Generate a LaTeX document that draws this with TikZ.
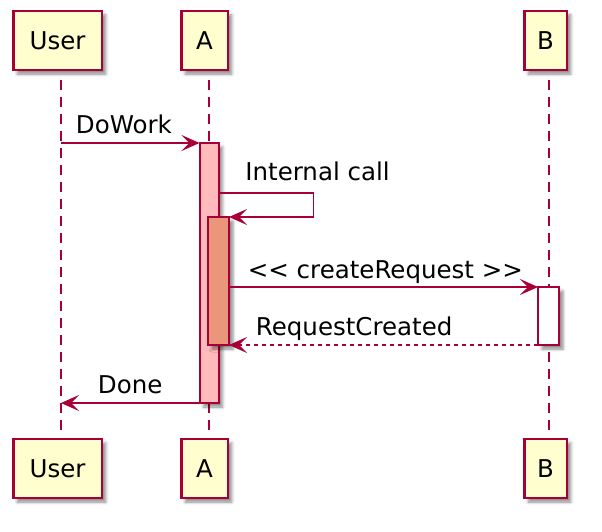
\documentclass[tikz,border=0pt]{standalone}
\usepackage{fontspec}
\setmainfont{DejaVu Sans}
\usepackage{tikz}
\usetikzlibrary{
	arrows.meta,
	calc,
	positioning,
	shadows.blur
}
\definecolor{plantred}{HTML}{A80036}
\definecolor{plantyellow}{HTML}{FEFECE}
\definecolor{plantpink}{HTML}{FFBBBB}
\definecolor{darksalmon}{HTML}{E9967A}

\begin{document}
\begin{tikzpicture} [
		x = 1pt,
		y = -1pt,
		font = \fontsize{24.5}{28}\selectfont,
		participant/.style = {
			rectangle,
			draw = plantred,
			fill = plantyellow,
			line width = 2.5pt,
			minimum height = 59pt,
			inner xsep = 0pt,
			blur shadow = {shadow xshift = 4pt, shadow yshift = -4pt, shadow blur radius = 3pt, shadow opacity = 45},
		},
		activation/.style = {
			rectangle,
			draw = plantred,
			line width = 2pt,
			minimum width = 19pt,
			inner sep = 0pt,
			outer sep = 0pt,
			anchor = north,
			blur shadow = {shadow xshift = 4pt, shadow yshift = -4pt, shadow blur radius = 3pt, shadow opacity = 45},
		},
		lifeline/.style = {
			draw = plantred,
			line width = 1.5pt,
			dash pattern = on 10pt off 7pt,
		},
		message/.style = {
			draw = plantred,
			line width = 1.8pt,
			-{Stealth[length = 18pt, width = 16pt, inset = 8pt]},
		},
		reply/.style = {
			message,
			dash pattern = on 4pt off 4pt,
		},
		message-caption/.style = {
			anchor = base west,
			inner sep = 0pt,
		}
	]

	\useasboundingbox (0,0) rectangle (602,532);

	% participants, top and bottom
	\node[participant, minimum width = 88.5pt] (user) at (57.5,40.5) {User};
	\node[participant, minimum width = 46.5pt] (a) at (204.5,40.5) {A};
	\node[participant, minimum width = 42.5pt] (b) at (545.5,40.5) {B};

	\node[participant, minimum width = 88.5pt] (user-bottom) at (57.5,468.5) {User};
	\node[participant, minimum width = 46.5pt] (a-bottom) at (204.5,468.5) {A};
	\node[participant, minimum width = 42.5pt] (b-bottom) at (545.5,468.5) {B};

	\draw[lifeline] ([xshift = 3.5pt, yshift = -9pt]user.south) -- ([xshift = 3.5pt, yshift = 6pt]user-bottom.north);
	\draw[lifeline] ([xshift = 4.5pt, yshift = -9pt]a.south) -- ([xshift = 4.5pt, yshift = 6pt]a-bottom.north);
	\draw[lifeline] ([xshift = 3.5pt, yshift = -9pt]b.south) -- ([xshift = 3.5pt, yshift = 6pt]b-bottom.north);

	% activations
	\node[activation, fill = plantpink, minimum height = 260pt] (a-outer) at (209,143) {};
	\node[activation, fill = darksalmon, minimum width = 21pt, minimum height = 128pt] (a-inner) at (218.5,217) {};
	\node[activation, fill = white, minimum width = 21pt, minimum height = 58pt] (b-act) at (548.5,287) {};

	\coordinate (user-dowork) at (61,143);
	\coordinate (user-done) at (61,403);

	\begin{scope} [
			every path/.style = message,
			every node/.style = message-caption
		]
		\path (user-dowork) -- node[at start, xshift = 14pt, yshift = 10pt] {DoWork} (a-outer.north west);
		\path ([yshift = -50pt]a-outer.north east) -- node[at start, xshift = 26pt, yshift = 13pt] {Internal call} ++(95,0) |- (a-inner.north east);
		\path ([yshift = -70pt]a-inner.north east) -- node[at start, xshift = 18pt, yshift = 9pt] {{<}{<} createRequest {>}{>}} (b-act.north west);
		\path (a-outer.south west) -- node[at end, xshift = 36pt, yshift = 10pt] {Done} (user-done);
	\end{scope}

	\begin{scope} [
			every path/.style = reply,
			every node/.style = message-caption
		]
		\path (b-act.south west) -- node[at end, xshift = 26pt, yshift = 10pt] {RequestCreated} (a-inner.south east);
	\end{scope}
\end{tikzpicture}
\end{document}
